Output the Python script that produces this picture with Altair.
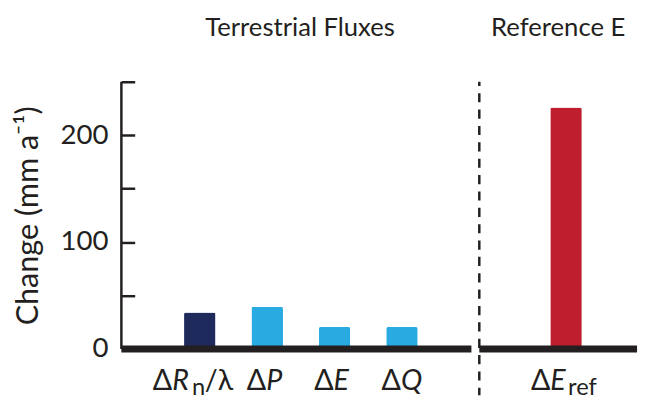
import altair as alt
import pandas as pd

# ---- data ----
flux_ids = ["ΔRn/λ", "ΔP", "ΔE", "ΔQ"]
flux_values = [34, 39.5, 20.5, 20.5]
flux_symbols = ["R", "P", "E", "Q"]
flux_subs = ["n", "", "", ""]
flux_tails = ["/λ", "", "", ""]

ref_ids = ["ΔEref"]
ref_values = [226]
ref_symbols = ["E"]
ref_subs = ["ref"]

y_ticks = [0, 50, 100, 150, 200, 250]

# ---- styles ----
FONT = "Lato, Open Sans, DejaVu Sans"
INK = "#231f20"
flux_colors = ["#1f2a5c", "#29abe2", "#29abe2", "#29abe2"]
ref_color = "#be1e2d"
H = 271
WL = 355
WR = 160

left_df = pd.DataFrame({"id": flux_ids, "val": flux_values, "sym": flux_symbols,
                        "sub": flux_subs, "tail": flux_tails})
right_df = pd.DataFrame({"id": ref_ids, "val": ref_values, "sym": ref_symbols,
                         "sub": ref_subs})
one = pd.DataFrame({"k": [0]})

yscale = alt.Scale(domain=[0, 250], nice=False)

# ---------------- left panel ----------------
xl = alt.X("id:N", sort=flux_ids, axis=None,
           scale=alt.Scale(paddingInner=0, paddingOuter=0.597, align=0.556))

bars_l = alt.Chart(left_df).mark_bar(width=32, cornerRadius=2).encode(
    x=xl,
    y=alt.Y("val:Q", scale=yscale,
            axis=alt.Axis(values=y_ticks, domain=False, grid=False, offset=-13.5,
                          tickSize=13.5, tickWidth=2.5, tickColor=INK,
                          labelExpr="datum.value % 100 == 0 ? datum.label : ''",
                          labelFont=FONT, labelFontSize=28, labelColor=INK,
                          labelPadding=13.5,
                          title="Change (mm a⁻¹)", titleFont=FONT, titleFontSize=31,
                          titleFontWeight="normal", titleColor=INK, titlePadding=16)),
    color=alt.Color("id:N", scale=alt.Scale(domain=flux_ids, range=flux_colors), legend=None),
)

axis_line = alt.Chart(one).mark_rule(color=INK, strokeWidth=2.5).encode(
    x=alt.value(0), y=alt.datum(0), y2=alt.datum(250))

base_l = alt.Chart(one).mark_rule(color=INK, strokeWidth=7).encode(
    x=alt.value(0), x2=alt.value(WL), y=alt.datum(0))

txt = dict(font=FONT, fontSize=29, color=INK, baseline="alphabetic")
sub_txt = dict(font=FONT, fontSize=24, color=INK, baseline="alphabetic")
LY = 312.4
SY = 318

not_rn = alt.datum.sub == ""
is_rn = alt.datum.sub != ""

d_l1 = alt.Chart(left_df).transform_filter(not_rn).mark_text(align="right", dx=-1, **txt).encode(
    x=xl, y=alt.value(LY), text=alt.value("Δ"))
s_l1 = alt.Chart(left_df).transform_filter(not_rn).mark_text(
    align="left", dx=-1, fontStyle="italic", **txt).encode(
    x=xl, y=alt.value(LY), text="sym:N")
d_l2 = alt.Chart(left_df).transform_filter(is_rn).mark_text(align="right", dx=-28, **txt).encode(
    x=xl, y=alt.value(LY), text=alt.value("Δ"))
s_l2 = alt.Chart(left_df).transform_filter(is_rn).mark_text(
    align="left", dx=-28, fontStyle="italic", **txt).encode(
    x=xl, y=alt.value(LY), text="sym:N")
sub_l2 = alt.Chart(left_df).transform_filter(is_rn).mark_text(align="left", dx=-8, **sub_txt).encode(
    x=xl, y=alt.value(SY), text="sub:N")
tail_l2 = alt.Chart(left_df).transform_filter(is_rn).mark_text(align="left", dx=5, **txt).encode(
    x=xl, y=alt.value(LY), text="tail:N")

left = alt.layer(bars_l, axis_line, base_l, d_l1, s_l1, d_l2, s_l2, sub_l2, tail_l2).properties(
    width=WL, height=H,
    title=alt.TitleParams("Terrestrial Fluxes", font=FONT, fontSize=26, fontWeight="normal",
                          color=INK, anchor="middle", frame="group", dx=3.7,
                          baseline="alphabetic", offset=19))

# ---------------- right panel ----------------
xr = alt.X("id:N", sort=ref_ids, axis=None,
           scale=alt.Scale(paddingInner=0, paddingOuter=0.5, align=0.6))

bars_r = alt.Chart(right_df).mark_bar(width=32, cornerRadius=2, color=ref_color).encode(
    x=xr, y=alt.Y("val:Q", scale=yscale, axis=None))

base_r = alt.Chart(one).mark_rule(color=INK, strokeWidth=7).encode(
    x=alt.value(0), x2=alt.value(WR), y=alt.datum(0))

dash = alt.Chart(one).mark_rule(color=INK, strokeWidth=2.5, strokeDash=[9.3, 7.3],
                                strokeDashOffset=5).encode(
    x=alt.value(0), y=alt.value(0), y2=alt.value(318))

d_r = alt.Chart(right_df).mark_text(align="right", dx=-16, **txt).encode(
    x=xr, y=alt.value(LY), text=alt.value("Δ"))
s_r = alt.Chart(right_df).mark_text(align="left", dx=-16, fontStyle="italic", **txt).encode(
    x=xr, y=alt.value(LY), text="sym:N")
sub_r = alt.Chart(right_df).mark_text(align="left", dx=2, **sub_txt).encode(
    x=xr, y=alt.value(SY), text="sub:N")

right = alt.layer(bars_r, base_r, dash, d_r, s_r, sub_r).properties(
    width=WR, height=H,
    title=alt.TitleParams("Reference E", font=FONT, fontSize=26, fontWeight="normal",
                          color=INK, anchor="middle", frame="group", dx=0,
                          baseline="alphabetic", offset=19))

chart = alt.hconcat(left, right, spacing=0).resolve_scale(y="independent").properties(
    padding={"left": 4, "top": 4, "right": 0, "bottom": 0}
).configure_view(stroke=None)

chart.save("out.html", embed_options={"renderer": "svg", "actions": False})
